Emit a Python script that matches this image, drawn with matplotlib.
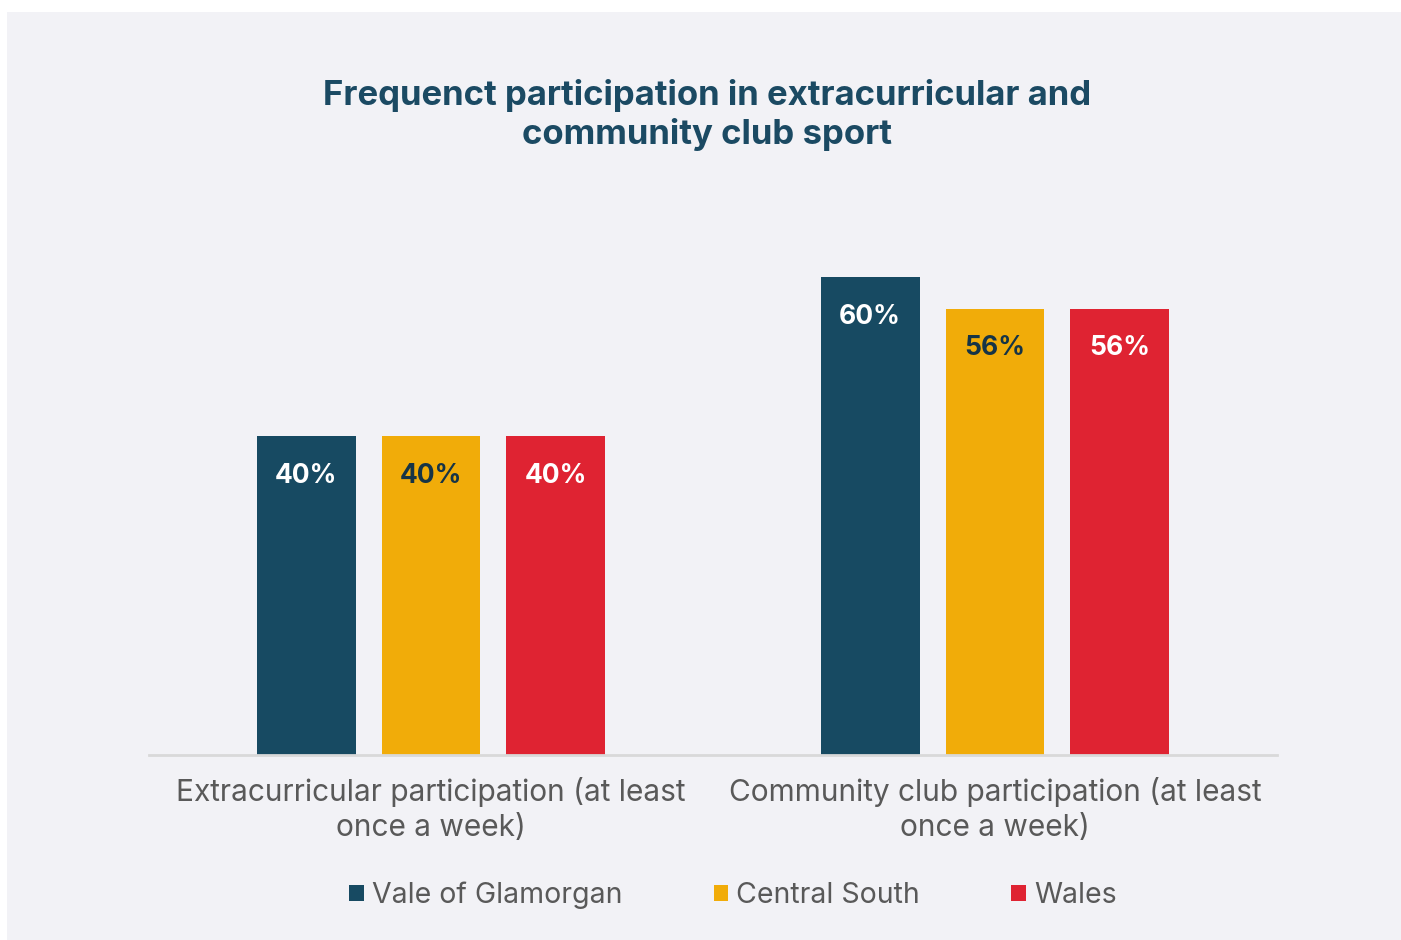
import matplotlib
matplotlib.use('Agg')
import matplotlib.pyplot as plt
from matplotlib.patches import Rectangle, Patch
import numpy as np

plt.rcParams['font.family'] = ['Inter', 'DejaVu Sans']

categories = ['Extracurricular participation (at least\nonce a week)',
              'Community club participation (at least\nonce a week)']
series = ['Vale of Glamorgan', 'Central South', 'Wales']
values = {
    'Vale of Glamorgan': [40, 60],
    'Central South': [40, 56],
    'Wales': [40, 56],
}
colors = ['#174A62', '#F1AC09', '#DF2332']
label_colors = ['white', '#163446', 'white']

BG = '#F2F2F6'

fig = plt.figure(figsize=(14.01, 9.40), dpi=100)
fig.patch.set_facecolor('white')
# light panel behind everything
fig.patches.append(Rectangle((7 / 1401, 0), 1 - 7 / 1401, 1 - 12 / 940,
                             transform=fig.transFigure, facecolor=BG,
                             edgecolor='none', zorder=-1))

ax = fig.add_axes([149 / 1401, 185 / 940, 1128 / 1401, 557.7 / 940])
ax.patch.set_alpha(0)

x = np.arange(len(categories))
w = 0.1755
step = 0.2216
for i, s in enumerate(series):
    pos = x + (i - 1) * step
    bars = ax.bar(pos, values[s], width=w, color=colors[i], zorder=2)
    for b, v in zip(bars, values[s]):
        ax.annotate(f'{v}%', (b.get_x() + b.get_width() / 2, v),
                    xytext=(0, -28.5), textcoords='offset points',
                    ha='center', va='center', fontsize=19, fontweight='bold',
                    color=label_colors[i])

ax.set_xlim(-0.5, 1.5)
ax.set_ylim(0, 70)
ax.set_yticks([])
ax.set_xticks(x)
ax.set_xticklabels(categories, fontsize=21.5, color='#595959', linespacing=1.3)
ax.tick_params(axis='x', length=0, pad=16)
for side in ['top', 'right', 'left']:
    ax.spines[side].set_visible(False)
ax.spines['bottom'].set_color('#D9D9D9')
ax.spines['bottom'].set_linewidth(2)

fig.text(707 / 1401, 1 - 115 / 940,
         'Frequenct participation in extracurricular and\ncommunity club sport',
         ha='center', va='center', fontsize=25, fontweight='bold',
         color='#1B4A63', linespacing=1.22)

handles = [Patch(facecolor=c, edgecolor='none') for c in colors]
fig.legend(handles, series, loc='center', bbox_to_anchor=(733 / 1401, 1 - 895 / 940),
           ncol=3, frameon=False, fontsize=20.5, labelcolor='#595959',
           handlelength=0.5, handleheight=0.5, handletextpad=0.3,
           columnspacing=3.2)

fig.savefig('out.png', dpi=100, facecolor='white')
